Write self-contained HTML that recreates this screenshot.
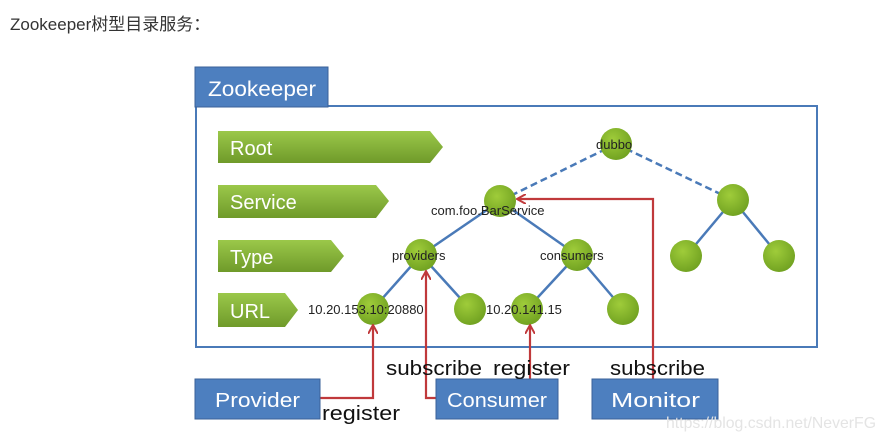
<!DOCTYPE html>
<html><head><meta charset="utf-8"><style>
body{margin:0;background:#fff;width:881px;height:439px;overflow:hidden;position:relative;font-family:"Liberation Sans","Noto Sans CJK SC",sans-serif}
.t{position:absolute;left:10px;top:10px;font-size:17px;color:#333}
</style></head><body>
<div class="t">Zookeeper树型目录服务：</div>
<svg width="881" height="439" style="position:absolute;left:0;top:0" font-family="Liberation Sans, sans-serif">
<defs>
<linearGradient id="g" x1="0" y1="0" x2="0" y2="1"><stop offset="0" stop-color="#9bc84a"/><stop offset="1" stop-color="#6f9a2a"/></linearGradient>
<radialGradient id="n" cx="0.4" cy="0.35" r="0.7"><stop offset="0" stop-color="#9fcc3a"/><stop offset="1" stop-color="#6fa020"/></radialGradient>
<marker id="a" markerWidth="10" markerHeight="10" refX="8" refY="5" orient="auto" markerUnits="userSpaceOnUse"><path d="M0,0 L9,5 L0,10" fill="none" stroke="#c0393b" stroke-width="2"/></marker>
</defs>
<rect x="196" y="106" width="621" height="241" fill="#fff" stroke="#4a7ab8" stroke-width="2"/>
<rect x="195" y="67" width="133" height="40" fill="#4d7fbf" stroke="#3a6298"/>
<text x="208" y="96" font-size="21" fill="#fff" textLength="108" lengthAdjust="spacingAndGlyphs">Zookeeper</text>
<g fill="url(#g)">
<polygon points="218,131 430,131 443,147 430,163 218,163"/>
<polygon points="218,185 376,185 389,201 376,218 218,218"/>
<polygon points="218,240 331,240 344,256 331,272 218,272"/>
<polygon points="218,293 285,293 298,310 285,327 218,327"/>
</g>
<g fill="#fff" font-size="20"><text x="230" y="155">Root</text><text x="230" y="209">Service</text><text x="230" y="264">Type</text><text x="230" y="318">URL</text></g>
<g stroke="#4a7ab8" stroke-width="2.5">
<line x1="616" y1="144" x2="500" y2="201" stroke-dasharray="7,4"/>
<line x1="616" y1="144" x2="733" y2="200" stroke-dasharray="7,4"/>
<line x1="500" y1="201" x2="421" y2="255"/><line x1="500" y1="201" x2="577" y2="255"/>
<line x1="421" y1="255" x2="373" y2="309"/><line x1="421" y1="255" x2="470" y2="309"/>
<line x1="577" y1="255" x2="527" y2="309"/><line x1="577" y1="255" x2="623" y2="309"/>
<line x1="733" y1="200" x2="686" y2="256"/><line x1="733" y1="200" x2="779" y2="256"/>
</g>
<g fill="url(#n)">
<circle cx="616" cy="144" r="16"/><circle cx="500" cy="201" r="16"/><circle cx="421" cy="255" r="16"/><circle cx="577" cy="255" r="16"/>
<circle cx="373" cy="309" r="16"/><circle cx="470" cy="309" r="16"/><circle cx="527" cy="309" r="16"/><circle cx="623" cy="309" r="16"/>
<circle cx="733" cy="200" r="16"/><circle cx="686" cy="256" r="16"/><circle cx="779" cy="256" r="16"/>
</g>
<g font-size="13" fill="#222">
<text x="596" y="149">dubbo</text><text x="431" y="215">com.foo.BarService</text>
<text x="392" y="260">providers</text><text x="540" y="260">consumers</text>
<text x="308" y="314">10.20.153.10:20880</text><text x="486" y="314">10.20.141.15</text>
</g>
<g stroke="#c0393b" stroke-width="2.2" fill="none">
<polyline points="320,398 373,398 373,326" marker-end="url(#a)"/>
<polyline points="436,398 426,398 426,272" marker-end="url(#a)"/>
<polyline points="530,379 530,326" marker-end="url(#a)"/>
<polyline points="653,379 653,199 518,199" marker-end="url(#a)"/>
</g>
<g fill="#4d7fbf" stroke="#3a6298">
<rect x="195" y="379" width="125" height="40"/><rect x="436" y="379" width="122" height="40"/><rect x="592" y="379" width="126" height="40"/>
</g>
<g fill="#fff" font-size="20"><text x="215" y="407" textLength="85" lengthAdjust="spacingAndGlyphs">Provider</text><text x="447" y="407" textLength="100" lengthAdjust="spacingAndGlyphs">Consumer</text><text x="611" y="407" textLength="89" lengthAdjust="spacingAndGlyphs">Monitor</text></g>
<g fill="#111" font-size="20"><text x="386" y="375" textLength="96" lengthAdjust="spacingAndGlyphs">subscribe</text><text x="493" y="375" textLength="77" lengthAdjust="spacingAndGlyphs">register</text><text x="610" y="375" textLength="95" lengthAdjust="spacingAndGlyphs">subscribe</text><text x="322" y="420" textLength="78" lengthAdjust="spacingAndGlyphs">register</text></g>
<text x="666" y="428" font-size="16" fill="#e4e4e4" textLength="210" lengthAdjust="spacingAndGlyphs">https://blog.csdn.net/NeverFG</text>
</svg>
</body></html>
